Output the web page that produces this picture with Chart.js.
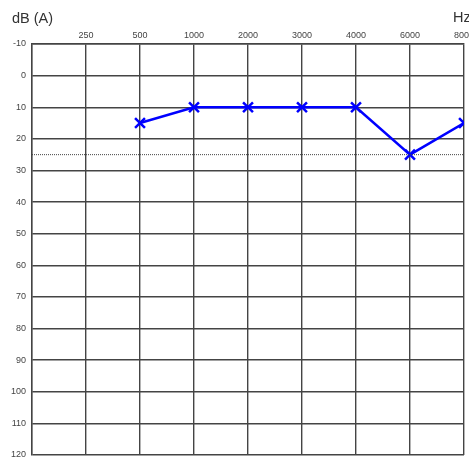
<!DOCTYPE html>
<html><head><meta charset="utf-8">
<script src="https://cdn.jsdelivr.net/npm/chart.js@4"></script>
<style>html,body{margin:0;padding:0;background:#fff;}#wrap{width:469px;height:457px;}</style>
</head><body><div id="wrap"><canvas id="c" width="469" height="457"></canvas></div>
<script>
const freqLabels = ["", "250", "500", "1000", "2000", "3000", "4000", "6000", "8000"];
const measuredIdx = [2, 3, 4, 5, 6, 7, 8];
const measuredDb = [15, 10, 10, 10, 10, 25, 15];
const refLineDb = 25;
const yTicks = [-10, 0, 10, 20, 30, 40, 50, 60, 70, 80, 90, 100, 110, 120];

const textPlugin = {
  id: 'txt',
  afterDraw(chart) {
    const ctx = chart.ctx;
    ctx.save();
    ctx.fillStyle = '#333';
    ctx.font = '14.5px "Liberation Sans", Arial, sans-serif';
    ctx.textBaseline = 'middle';
    ctx.textAlign = 'left';
    ctx.fillText('dB (A)', 12, 19);
    ctx.fillText('Hz', 453, 18);
    ctx.restore();
  }
};

new Chart(document.getElementById('c'), {
  type: 'line',
  data: {
    datasets: [
      {
        data: [{x: 0, y: refLineDb}, {x: freqLabels.length - 1, y: refLineDb}],
        borderColor: '#444', borderWidth: 1, borderDash: [1, 1], pointRadius: 0
      },
      {
        data: measuredIdx.map((x, i) => ({x: x, y: measuredDb[i]})),
        borderColor: '#0000ff', borderWidth: 2.5,
        pointStyle: 'cross', rotation: 45, pointRadius: 7, pointBorderWidth: 2.5,
        pointBorderColor: '#0000ff', pointBackgroundColor: '#0000ff'
      }
    ]
  },
  options: {
    responsive: false, animation: false,
    layout: {autoPadding: false, padding: {top: 0, right: 5, bottom: 2, left: 0}},
    plugins: {legend: {display: false}, tooltip: {enabled: false}},
    scales: {
      x: {
        type: 'linear', position: 'top', min: 0, max: freqLabels.length - 1,
        afterFit(s) { s.height = 44; s.paddingLeft = 0; s.paddingRight = 0; },
        grid: {color: '#444', lineWidth: 1.4, drawTicks: false},
        border: {color: '#444', width: 1.4},
        ticks: {
          stepSize: 1, padding: 3, color: '#444', maxRotation: 0, autoSkip: false,
          font: {size: 9, family: '"Liberation Sans", Arial, sans-serif'},
          callback: v => freqLabels[v]
        }
      },
      y: {
        type: 'linear', reverse: true, min: -10, max: 120,
        afterFit(s) { s.width = 32; s.paddingTop = 0; s.paddingBottom = 0; },
        afterBuildTicks(s) { s.ticks = yTicks.map(v => ({value: v})); },
        grid: {color: '#444', lineWidth: 1.4, drawTicks: false},
        border: {color: '#444', width: 1.4},
        ticks: {
          padding: 6, color: '#444',
          font: {size: 9, family: '"Liberation Sans", Arial, sans-serif'}
        }
      }
    }
  },
  plugins: [textPlugin]
});
</script></body></html>
